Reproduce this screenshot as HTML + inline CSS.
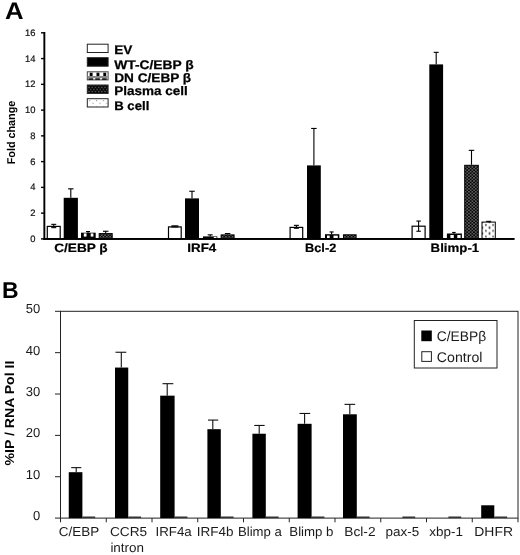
<!DOCTYPE html>
<html><head><meta charset="utf-8"><title>Figure</title>
<style>
html,body{margin:0;padding:0;background:#fff;}
body{width:520px;height:555px;overflow:hidden;}
svg{display:block;font-family:"Liberation Sans",Arial,sans-serif;text-rendering:geometricPrecision;}
</style></head><body>
<svg width="520" height="555" viewBox="0 0 520 555">
<defs>
<pattern id="pl" width="3.4" height="3.1" patternUnits="userSpaceOnUse" patternTransform="translate(0.6,0.4)">
<rect width="3.4" height="3.1" fill="#050505"/>
<rect x="0.2" y="0.1" width="1.3" height="1.3" fill="#8c8c8c"/>
<rect x="1.9" y="1.65" width="1.3" height="1.3" fill="#8c8c8c"/>
</pattern>
<pattern id="pl2" width="3.2" height="4.4" patternUnits="userSpaceOnUse" patternTransform="translate(0.3,0.6)">
<rect width="3.2" height="4.4" fill="#050505"/>
<rect x="0.2" y="0.3" width="1.1" height="1.1" fill="#8a8a8a"/>
<rect x="1.8" y="2.5" width="1.1" height="1.1" fill="#8a8a8a"/>
</pattern>
<pattern id="dn" width="6.8" height="5.5" patternUnits="userSpaceOnUse" patternTransform="translate(1.7,1.2)">
<rect width="6.8" height="5.5" fill="#fff"/>
<rect x="0" y="0" width="3" height="3.3" fill="#000"/>
<rect x="0" y="3.3" width="6.8" height="2.2" fill="#8a8a8a"/>
</pattern>
<pattern id="bc" width="7.2" height="5.8" patternUnits="userSpaceOnUse" patternTransform="translate(2.7,3.5)">
<rect width="7.2" height="5.8" fill="#fff"/>
<rect x="-0.1" y="-0.2" width="1.7" height="2.4" fill="#707070"/>
<rect x="3.7" y="2.5" width="1.3" height="2.5" fill="#111"/>
</pattern>
<pattern id="bc2" width="6.8" height="6.4" patternUnits="userSpaceOnUse" patternTransform="translate(0.8,4.1)">
<rect width="6.8" height="6.4" fill="#fff"/>
<rect x="0" y="0" width="1.1" height="1.1" fill="#999"/>
<rect x="3.4" y="2.6" width="1.1" height="1.1" fill="#999"/>
</pattern>
</defs>
<rect width="520" height="555" fill="#fff"/>

<text x="5" y="18.8" font-size="24" font-weight="bold" textLength="18.6" lengthAdjust="spacingAndGlyphs">A</text>
<rect x="43.4" y="32" width="1.9" height="207.8" fill="#000"/>
<rect x="43.4" y="238" width="471" height="1.8" fill="#000"/>
<rect x="41" y="238.20" width="3" height="1.4" fill="#000"/>
<text x="35.4" y="242.00" font-size="9.4" text-anchor="end" fill="#111" stroke="#111" stroke-width="0.2">0</text>
<rect x="41" y="212.44" width="3" height="1.4" fill="#000"/>
<text x="35.4" y="216.24" font-size="9.4" text-anchor="end" fill="#111" stroke="#111" stroke-width="0.2">2</text>
<rect x="41" y="186.68" width="3" height="1.4" fill="#000"/>
<text x="35.4" y="190.48" font-size="9.4" text-anchor="end" fill="#111" stroke="#111" stroke-width="0.2">4</text>
<rect x="41" y="160.92" width="3" height="1.4" fill="#000"/>
<text x="35.4" y="164.72" font-size="9.4" text-anchor="end" fill="#111" stroke="#111" stroke-width="0.2">6</text>
<rect x="41" y="135.16" width="3" height="1.4" fill="#000"/>
<text x="35.4" y="138.96" font-size="9.4" text-anchor="end" fill="#111" stroke="#111" stroke-width="0.2">8</text>
<rect x="41" y="109.40" width="3" height="1.4" fill="#000"/>
<text x="35.4" y="113.20" font-size="9.4" text-anchor="end" fill="#111" stroke="#111" stroke-width="0.2">10</text>
<rect x="41" y="83.64" width="3" height="1.4" fill="#000"/>
<text x="35.4" y="87.44" font-size="9.4" text-anchor="end" fill="#111" stroke="#111" stroke-width="0.2">12</text>
<rect x="41" y="57.88" width="3" height="1.4" fill="#000"/>
<text x="35.4" y="61.68" font-size="9.4" text-anchor="end" fill="#111" stroke="#111" stroke-width="0.2">14</text>
<rect x="41" y="32.12" width="3" height="1.4" fill="#000"/>
<text x="35.4" y="35.92" font-size="9.4" text-anchor="end" fill="#111" stroke="#111" stroke-width="0.2">16</text>
<text transform="translate(14.6,164.3) rotate(-90)" font-size="11.3" font-weight="bold" textLength="63.6" lengthAdjust="spacingAndGlyphs">Fold change</text>
<rect x="87.3" y="44.2" width="20.8" height="8.30" fill="#fff" stroke="#222" stroke-width="1"/>
<text x="114.2" y="53.9" font-size="12.4" font-weight="bold" stroke="#000" stroke-width="0.25" textLength="18.2" lengthAdjust="spacingAndGlyphs">EV</text>
<rect x="87.3" y="57.7" width="20.8" height="8.50" fill="#000" stroke="#222" stroke-width="1"/>
<text x="114.2" y="69.1" font-size="12.4" font-weight="bold" stroke="#000" stroke-width="0.25" textLength="79.6" lengthAdjust="spacingAndGlyphs">WT-C/EBP β</text>
<rect x="87.3" y="71.8" width="20.8" height="8.10" fill="#fff" stroke="#444" stroke-width="1"/>
<rect x="89.7" y="72.7" width="2.9" height="3.3" fill="#000"/>
<rect x="88.5" y="78.2" width="4.6" height="1.7" fill="#111"/>
<rect x="96.5" y="72.7" width="2.9" height="3.3" fill="#000"/>
<rect x="95.3" y="78.2" width="4.6" height="1.7" fill="#111"/>
<rect x="103.3" y="72.7" width="2.9" height="3.3" fill="#000"/>
<rect x="102.1" y="78.2" width="4.6" height="1.7" fill="#111"/>
<rect x="87.8" y="76" width="19.8" height="2.2" fill="#8a8a8a"/>
<text x="114.2" y="82.1" font-size="12.4" font-weight="bold" stroke="#000" stroke-width="0.25" textLength="77" lengthAdjust="spacingAndGlyphs">DN C/EBP β</text>
<rect x="87.3" y="85.0" width="20.8" height="8.40" fill="url(#pl2)" stroke="#222" stroke-width="1"/>
<text x="114.2" y="94.7" font-size="12.4" font-weight="bold" stroke="#000" stroke-width="0.25" textLength="73.6" lengthAdjust="spacingAndGlyphs">Plasma cell</text>
<rect x="87.3" y="98.7" width="20.8" height="8.30" fill="url(#bc2)" stroke="#222" stroke-width="1"/>
<text x="114.2" y="109.8" font-size="12.4" font-weight="bold" stroke="#000" stroke-width="0.25" textLength="35.1" lengthAdjust="spacingAndGlyphs">B cell</text>
<rect x="47.30" y="226.40" width="12.90" height="12.50" fill="#fff" stroke="#000" stroke-width="1.2"/>
<rect x="53.20" y="224.30" width="1.1" height="3.30" fill="#000"/>
<rect x="51.25" y="223.80" width="5" height="1.1" fill="#000"/>
<rect x="51.25" y="227.10" width="5" height="1.1" fill="#000"/>
<rect x="63.70" y="197.80" width="14.20" height="41.10" fill="#000"/>
<rect x="70.25" y="188.80" width="1.1" height="9.00" fill="#000"/>
<rect x="68.05" y="188.30" width="5.5" height="1.1" fill="#000"/>
<rect x="81.00" y="232.70" width="14.70" height="6.20" fill="#000"/>
<rect x="83.80" y="233.40" width="2.70" height="3.20" fill="#fff"/>
<rect x="90.70" y="233.40" width="2.70" height="3.20" fill="#fff"/>
<rect x="87.45" y="231.50" width="1.1" height="1.40" fill="#000"/>
<rect x="86.00" y="231.00" width="4" height="1.1" fill="#000"/>
<rect x="99.20" y="233.60" width="13.00" height="5.30" fill="url(#pl)" stroke="#000" stroke-width="1"/>
<rect x="105.15" y="231.20" width="1.1" height="1.90" fill="#000"/>
<rect x="102.95" y="230.70" width="5.5" height="1.1" fill="#000"/>
<rect x="168.50" y="226.90" width="12.70" height="12.00" fill="#fff" stroke="#000" stroke-width="1.2"/>
<rect x="174.30" y="225.80" width="1.1" height="1.10" fill="#000"/>
<rect x="171.35" y="225.30" width="7" height="1.1" fill="#000"/>
<rect x="171.35" y="226.40" width="7" height="1.1" fill="#000"/>
<rect x="185.00" y="198.40" width="14.00" height="40.50" fill="#000"/>
<rect x="191.45" y="191.20" width="1.1" height="7.20" fill="#000"/>
<rect x="189.25" y="190.70" width="5.5" height="1.1" fill="#000"/>
<rect x="203.00" y="236.40" width="14.30" height="2.50" fill="#000"/>
<rect x="213.80" y="236.90" width="2.70" height="1.30" fill="#fff"/>
<rect x="209.65" y="234.80" width="1.1" height="1.80" fill="#000"/>
<rect x="207.70" y="234.30" width="5" height="1.1" fill="#000"/>
<rect x="221.10" y="234.90" width="13.00" height="4.00" fill="url(#pl)" stroke="#000" stroke-width="1"/>
<rect x="227.05" y="233.50" width="1.1" height="0.90" fill="#000"/>
<rect x="224.85" y="233.00" width="5.5" height="1.1" fill="#000"/>
<rect x="290.10" y="227.40" width="12.60" height="11.50" fill="#fff" stroke="#000" stroke-width="1.2"/>
<rect x="295.85" y="225.30" width="1.1" height="2.90" fill="#000"/>
<rect x="293.90" y="224.80" width="5" height="1.1" fill="#000"/>
<rect x="293.90" y="227.70" width="5" height="1.1" fill="#000"/>
<rect x="307.00" y="165.40" width="13.80" height="73.50" fill="#000"/>
<rect x="313.35" y="128.40" width="1.1" height="37.00" fill="#000"/>
<rect x="311.15" y="127.90" width="5.5" height="1.1" fill="#000"/>
<rect x="325.00" y="234.20" width="14.30" height="4.70" fill="#000"/>
<rect x="327.00" y="235.60" width="2.70" height="2.50" fill="#fff"/>
<rect x="333.50" y="235.60" width="4.30" height="2.50" fill="#fff"/>
<rect x="331.05" y="231.90" width="1.1" height="2.50" fill="#000"/>
<rect x="329.60" y="231.40" width="4" height="1.1" fill="#000"/>
<rect x="343.50" y="234.80" width="12.60" height="4.10" fill="url(#pl)" stroke="#000" stroke-width="1"/>
<rect x="412.10" y="226.20" width="13.00" height="12.70" fill="#fff" stroke="#000" stroke-width="1.2"/>
<rect x="418.05" y="221.00" width="1.1" height="10.20" fill="#000"/>
<rect x="416.35" y="220.50" width="4.5" height="1.1" fill="#000"/>
<rect x="416.35" y="230.70" width="4.5" height="1.1" fill="#000"/>
<rect x="429.30" y="64.40" width="13.80" height="174.50" fill="#000"/>
<rect x="435.65" y="52.30" width="1.1" height="12.10" fill="#000"/>
<rect x="433.70" y="51.80" width="5" height="1.1" fill="#000"/>
<rect x="446.90" y="233.50" width="15.00" height="5.40" fill="#000"/>
<rect x="450.40" y="235.00" width="3.40" height="3.10" fill="#fff"/>
<rect x="457.30" y="235.00" width="3.30" height="3.10" fill="#fff"/>
<rect x="453.35" y="232.40" width="1.1" height="1.30" fill="#000"/>
<rect x="452.15" y="231.90" width="3.5" height="1.1" fill="#000"/>
<rect x="464.70" y="165.30" width="13.60" height="73.60" fill="url(#pl)" stroke="#000" stroke-width="1"/>
<rect x="470.95" y="150.30" width="1.1" height="14.50" fill="#000"/>
<rect x="468.75" y="149.80" width="5.5" height="1.1" fill="#000"/>
<rect x="482.00" y="222.10" width="13.30" height="16.80" fill="url(#bc)" stroke="#000" stroke-width="1"/>
<rect x="488.10" y="221.30" width="1.1" height="0.30" fill="#000"/>
<rect x="486.15" y="220.80" width="5" height="1.1" fill="#000"/>
<rect x="43.4" y="238" width="471" height="1.8" fill="#000"/>
<text x="54.2" y="251.9" font-size="12.2" font-weight="bold" stroke="#000" stroke-width="0.2" textLength="53.5" lengthAdjust="spacingAndGlyphs">C/EBP β</text>
<text x="187.3" y="251.9" font-size="12.2" font-weight="bold" stroke="#000" stroke-width="0.2" textLength="29" lengthAdjust="spacingAndGlyphs">IRF4</text>
<text x="305" y="251.9" font-size="12.2" font-weight="bold" stroke="#000" stroke-width="0.2" textLength="31.3" lengthAdjust="spacingAndGlyphs">Bcl-2</text>
<text x="430.6" y="251.9" font-size="12.2" font-weight="bold" stroke="#000" stroke-width="0.2" textLength="48.6" lengthAdjust="spacingAndGlyphs">Blimp-1</text>
<text x="2.1" y="297.6" font-size="23" font-weight="bold">B</text>
<rect x="60.5" y="311.3" width="457.5" height="206.8" fill="none" stroke="#222" stroke-width="1"/>
<line x1="55" x2="60.5" y1="518.10" y2="518.10" stroke="#222" stroke-width="1"/>
<text x="40.3" y="520.10" font-size="13" text-anchor="end" fill="#1a1a1a">0</text>
<line x1="55" x2="60.5" y1="476.74" y2="476.74" stroke="#222" stroke-width="1"/>
<text x="40.3" y="478.74" font-size="13" text-anchor="end" fill="#1a1a1a">10</text>
<line x1="55" x2="60.5" y1="435.38" y2="435.38" stroke="#222" stroke-width="1"/>
<text x="40.3" y="437.38" font-size="13" text-anchor="end" fill="#1a1a1a">20</text>
<line x1="55" x2="60.5" y1="394.02" y2="394.02" stroke="#222" stroke-width="1"/>
<text x="40.3" y="396.02" font-size="13" text-anchor="end" fill="#1a1a1a">30</text>
<line x1="55" x2="60.5" y1="352.66" y2="352.66" stroke="#222" stroke-width="1"/>
<text x="40.3" y="354.66" font-size="13" text-anchor="end" fill="#1a1a1a">40</text>
<line x1="55" x2="60.5" y1="311.30" y2="311.30" stroke="#222" stroke-width="1"/>
<text x="40.3" y="313.30" font-size="13" text-anchor="end" fill="#1a1a1a">50</text>
<text transform="translate(13.9,465.4) rotate(-90)" font-size="13" font-weight="bold" textLength="104.7" lengthAdjust="spacingAndGlyphs">%IP / RNA Pol II</text>
<line x1="60.50" x2="60.50" y1="518.1" y2="522.3" stroke="#222" stroke-width="1"/>
<line x1="106.25" x2="106.25" y1="518.1" y2="522.3" stroke="#222" stroke-width="1"/>
<line x1="152.00" x2="152.00" y1="518.1" y2="522.3" stroke="#222" stroke-width="1"/>
<line x1="197.75" x2="197.75" y1="518.1" y2="522.3" stroke="#222" stroke-width="1"/>
<line x1="243.50" x2="243.50" y1="518.1" y2="522.3" stroke="#222" stroke-width="1"/>
<line x1="289.25" x2="289.25" y1="518.1" y2="522.3" stroke="#222" stroke-width="1"/>
<line x1="335.00" x2="335.00" y1="518.1" y2="522.3" stroke="#222" stroke-width="1"/>
<line x1="380.75" x2="380.75" y1="518.1" y2="522.3" stroke="#222" stroke-width="1"/>
<line x1="426.50" x2="426.50" y1="518.1" y2="522.3" stroke="#222" stroke-width="1"/>
<line x1="472.25" x2="472.25" y1="518.1" y2="522.3" stroke="#222" stroke-width="1"/>
<line x1="518.00" x2="518.00" y1="518.1" y2="522.3" stroke="#222" stroke-width="1"/>
<rect x="68.75" y="472.19" width="13.65" height="45.91" fill="#000"/>
<line x1="76.20" x2="76.20" y1="467.64" y2="472.19" stroke="#111" stroke-width="1.1"/>
<line x1="71.20" x2="81.30" y1="467.64" y2="467.64" stroke="#111" stroke-width="1.1"/>
<rect x="82.40" y="516.5" width="12.8" height="1.6" fill="#333"/>
<rect x="115.00" y="367.55" width="13.25" height="150.55" fill="#000"/>
<line x1="121.30" x2="121.30" y1="352.25" y2="367.55" stroke="#111" stroke-width="1.1"/>
<line x1="115.50" x2="126.30" y1="352.25" y2="352.25" stroke="#111" stroke-width="1.1"/>
<rect x="128.25" y="516.5" width="12.8" height="1.6" fill="#333"/>
<rect x="160.20" y="395.67" width="14.40" height="122.43" fill="#000"/>
<line x1="167.20" x2="167.20" y1="383.68" y2="395.67" stroke="#111" stroke-width="1.1"/>
<line x1="162.50" x2="173.30" y1="383.68" y2="383.68" stroke="#111" stroke-width="1.1"/>
<rect x="174.60" y="516.5" width="12.8" height="1.6" fill="#333"/>
<rect x="207.40" y="429.18" width="13.40" height="88.92" fill="#000"/>
<line x1="212.80" x2="212.80" y1="420.08" y2="429.18" stroke="#111" stroke-width="1.1"/>
<line x1="208.00" x2="218.20" y1="420.08" y2="420.08" stroke="#111" stroke-width="1.1"/>
<rect x="220.80" y="516.5" width="12.8" height="1.6" fill="#333"/>
<rect x="252.40" y="433.73" width="13.40" height="84.37" fill="#000"/>
<line x1="259.20" x2="259.20" y1="425.45" y2="433.73" stroke="#111" stroke-width="1.1"/>
<line x1="254.20" x2="264.60" y1="425.45" y2="425.45" stroke="#111" stroke-width="1.1"/>
<rect x="265.80" y="516.5" width="12.8" height="1.6" fill="#333"/>
<rect x="297.60" y="423.80" width="14.00" height="94.30" fill="#000"/>
<line x1="304.60" x2="304.60" y1="413.46" y2="423.80" stroke="#111" stroke-width="1.1"/>
<line x1="299.50" x2="310.20" y1="413.46" y2="413.46" stroke="#111" stroke-width="1.1"/>
<rect x="311.60" y="516.5" width="12.8" height="1.6" fill="#333"/>
<rect x="343.00" y="414.29" width="13.80" height="103.81" fill="#000"/>
<line x1="349.80" x2="349.80" y1="404.36" y2="414.29" stroke="#111" stroke-width="1.1"/>
<line x1="344.50" x2="355.20" y1="404.36" y2="404.36" stroke="#111" stroke-width="1.1"/>
<rect x="356.80" y="516.5" width="12.8" height="1.6" fill="#333"/>
<rect x="402.40" y="516.5" width="12.8" height="1.6" fill="#333"/>
<rect x="448.40" y="516.5" width="12.8" height="1.6" fill="#333"/>
<rect x="481.20" y="505.28" width="13.10" height="12.82" fill="#000"/>
<rect x="494.30" y="516.5" width="12.8" height="1.6" fill="#333"/>
<text x="58.80" y="536.3" font-size="13" fill="#1a1a1a" textLength="40.40" lengthAdjust="spacingAndGlyphs">C/EBP</text>
<text x="110.00" y="536.3" font-size="13" fill="#1a1a1a" textLength="37.20" lengthAdjust="spacingAndGlyphs">CCR5</text>
<text x="155.50" y="536.3" font-size="13" fill="#1a1a1a" textLength="36.20" lengthAdjust="spacingAndGlyphs">IRF4a</text>
<text x="196.80" y="536.3" font-size="13" fill="#1a1a1a" textLength="36.70" lengthAdjust="spacingAndGlyphs">IRF4b</text>
<text x="238.00" y="536.3" font-size="13" fill="#1a1a1a" textLength="43.80" lengthAdjust="spacingAndGlyphs">Blimp a</text>
<text x="289.30" y="536.3" font-size="13" fill="#1a1a1a" textLength="44.20" lengthAdjust="spacingAndGlyphs">Blimp b</text>
<text x="344.30" y="536.3" font-size="13" fill="#1a1a1a" textLength="31.20" lengthAdjust="spacingAndGlyphs">Bcl-2</text>
<text x="385.50" y="536.3" font-size="13" fill="#1a1a1a" textLength="33.70" lengthAdjust="spacingAndGlyphs">pax-5</text>
<text x="429.30" y="536.3" font-size="13" fill="#1a1a1a" textLength="33.70" lengthAdjust="spacingAndGlyphs">xbp-1</text>
<text x="474.30" y="536.3" font-size="13" fill="#1a1a1a" textLength="38.70" lengthAdjust="spacingAndGlyphs">DHFR</text>
<text x="110.4" y="552" font-size="13" fill="#1a1a1a" textLength="33.6" lengthAdjust="spacingAndGlyphs">intron</text>
<rect x="414.3" y="320.5" width="82.7" height="47.5" fill="#fff" stroke="#222" stroke-width="1"/>
<rect x="421.3" y="330.5" width="10.5" height="10.7" fill="#000"/>
<rect x="421.8" y="351.7" width="9.6" height="9.7" fill="#fff" stroke="#222" stroke-width="1"/>
<text x="436.8" y="340.8" font-size="14" fill="#1a1a1a" textLength="49.4" lengthAdjust="spacingAndGlyphs">C/EBPβ</text>
<text x="436.8" y="361.6" font-size="14" fill="#1a1a1a" textLength="45.6" lengthAdjust="spacingAndGlyphs">Control</text>
</svg></body></html>
